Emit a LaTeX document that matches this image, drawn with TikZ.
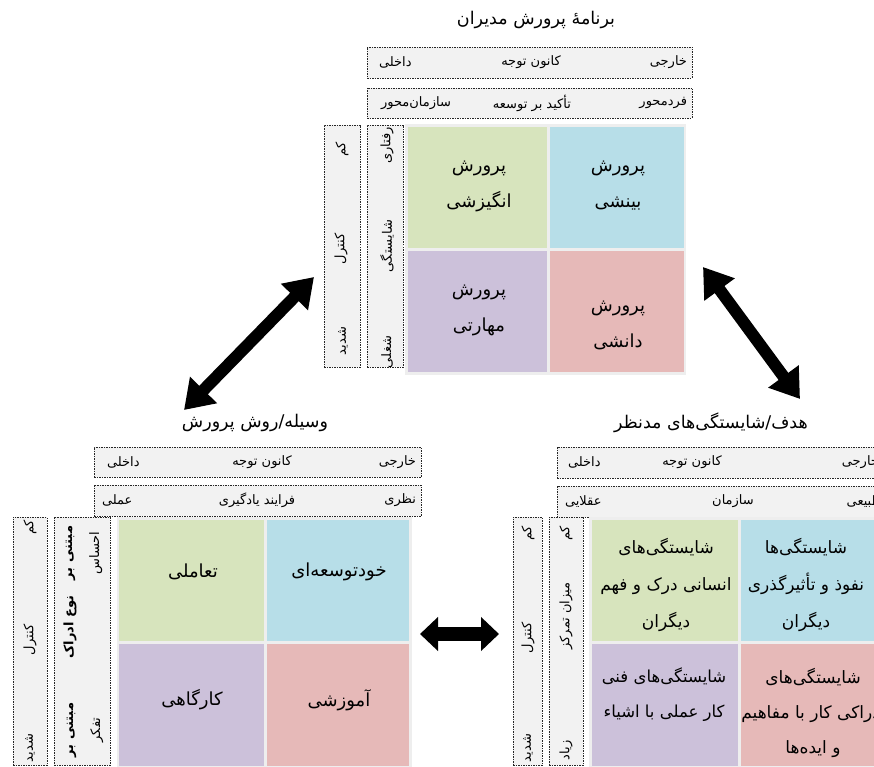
\documentclass[tikz,border=0pt]{standalone}
\usepackage{fontspec}
\newfontfamily\fa[Script=Arabic]{DejaVu Sans}
\TeXXeTstate=1
\usetikzlibrary{arrows.meta}
\definecolor{boxgray}{HTML}{F2F2F2}
\definecolor{matbg}{HTML}{EEEEEE}
\definecolor{cgreen}{HTML}{D7E4BD}
\definecolor{cblue}{HTML}{B7DEE8}
\definecolor{cpurple}{HTML}{CCC1DA}
\definecolor{cred}{HTML}{E6B9B8}
\newcommand{\rl}[1]{\beginR #1\endR}
\tikzset{
  every node/.style={inner sep=0pt, outer sep=0pt},
  dbox/.style={draw=black!85, fill=boxgray, dash pattern=on 1.5pt off 1pt, line width=0.6pt},
  matb/.style={fill=matbg, draw=none},
  cellg/.style={fill=cgreen, draw=none},
  cellb/.style={fill=cblue, draw=none},
  cellp/.style={fill=cpurple, draw=none},
  cellr/.style={fill=cred, draw=none},
  boxlbl/.style={font=\fa\fontsize{13}{15}\selectfont},
  vlbl/.style={boxlbl, rotate=90},
  celltxt/.style={font=\fa\fontsize{18}{36}\selectfont, align=center},
  celltxtb/.style={align=center},
  ttl/.style={font=\fa\fontsize{17.5}{21}\selectfont},
  bigarrow/.style={line width=12pt, {Triangle[length=28pt,width=36pt]}-{Triangle[length=28pt,width=36pt]}},
  midarrow/.style={line width=14pt, {Triangle[length=18pt,width=33pt]}-{Triangle[length=18pt,width=33pt]}},
}
\begin{document}
\begin{tikzpicture}[x=1pt,y=-1pt]
\useasboundingbox (0,0) rectangle (874,767);
\clip (0,0) rectangle (874,767);
\fill[white] (0,0) rectangle (874,767);

% ================= TOP BLOCK =================
\node[ttl] (tt) at (536,20) {\rl{برنامهٔ پرورش مدیران}};
\node[dbox, minimum width=325pt, minimum height=31pt] (t1) at (529.5,62.5) {};
\node[dbox, minimum width=325pt, minimum height=30pt] (t2) at (529.5,103) {};
\node[boxlbl, anchor=east] (t1r) at (687,62.5) {\rl{خارجی}};
\node[boxlbl] (t1c) at (531,62.5) {\rl{کانون توجه}};
\node[boxlbl, anchor=west] (t1l) at (379,62.5) {\rl{داخلی}};
\node[boxlbl, anchor=east] (t2r) at (687,103) {\rl{فردمحور}};
\node[boxlbl] (t2c) at (532,103) {\rl{تأکید بر توسعه}};
\node[boxlbl, anchor=west] (t2l) at (381,103) {\rl{سازمان‌محور}};

\node[dbox, minimum width=36pt, minimum height=242pt] (tv1) at (342,246) {};
\node[dbox, minimum width=36pt, minimum height=242pt] (tv2) at (385,246) {};
\node[vlbl, anchor=east] (tv1a) at (342,142) {\rl{کم}};
\node[vlbl] (tv1b) at (341,249) {\rl{کنترل}};
\node[vlbl, anchor=west] (tv1c) at (343,355) {\rl{شدید}};
\node[vlbl, anchor=east] (tv2a) at (387,127) {\rl{رفتاری}};
\node[vlbl] (tv2b) at (387,246) {\rl{شایستگی}};
\node[vlbl, anchor=west] (tv2c) at (387,368) {\rl{شغلی}};

\node[matb, minimum width=281pt, minimum height=251pt] (tm) at (545.5,249.5) {};
\node[cellg, minimum width=139pt, minimum height=121pt] (tg) at (477.5,187.5) {};
\node[cellb, minimum width=134pt, minimum height=121pt] (tb) at (617,187.5) {};
\node[cellp, minimum width=139pt, minimum height=121pt] (tp) at (477.5,311.5) {};
\node[cellr, minimum width=134pt, minimum height=121pt] (tr) at (617,311.5) {};
\node[celltxt] (tgt) at (479,186) {\rl{پرورش}\\\rl{انگیزشی}};
\node[celltxt] (tbt) at (618,186) {\rl{پرورش}\\\rl{بینشی}};
\node[celltxt] (tpt) at (479,310) {\rl{پرورش}\\\rl{مهارتی}};
\node[celltxt] (trt) at (618,325) {\rl{پرورش}\\\rl{دانشی}};

% ================= BOTTOM LEFT BLOCK =================
\node[ttl] (lt) at (255,423) {\rl{وسیله/روش پرورش}};
\node[dbox, minimum width=327pt, minimum height=30pt] (l1) at (257.5,462) {};
\node[dbox, minimum width=327pt, minimum height=31pt] (l2) at (257.5,500.5) {};
\node[boxlbl, anchor=east] (l1r) at (416,462) {\rl{خارجی}};
\node[boxlbl] (l1c) at (262,462) {\rl{کانون توجه}};
\node[boxlbl, anchor=west] (l1l) at (107,462) {\rl{داخلی}};
\node[boxlbl, anchor=east] (l2r) at (416,500.5) {\rl{نظری}};
\node[boxlbl] (l2c) at (257,500.5) {\rl{فرایند یادگیری}};
\node[boxlbl, anchor=west] (l2l) at (102,500.5) {\rl{عملی}};

\node[dbox, minimum width=34pt, minimum height=248pt] (lv1) at (30,641) {};
\node[dbox, minimum width=56pt, minimum height=248pt] (lv2) at (82,641) {};
\node[vlbl, anchor=east] (lv1a) at (30,520) {\rl{کم}};
\node[vlbl] (lv1b) at (30,640) {\rl{کنترل}};
\node[vlbl, anchor=west] (lv1c) at (30,762) {\rl{شدید}};
\node[vlbl, align=center, font=\fa\fontsize{13}{27}\selectfont] (lv2a) at (84,553) {\bfseries\rl{مبتنی بر}\\\rl{احساس}};
\node[vlbl] (lv2b) at (70,627) {\bfseries\rl{نوع ادراک}};
\node[vlbl, align=center, font=\fa\fontsize{13}{27}\selectfont] (lv2c) at (85,730) {\bfseries\rl{مبتنی بر}\\\rl{تفکر}};

\node[matb, minimum width=295pt, minimum height=252pt] (lm) at (264.5,643) {};
\node[cellg, minimum width=145pt, minimum height=121pt] (lg) at (191.5,580.5) {};
\node[cellb, minimum width=142pt, minimum height=121pt] (lb) at (338,580.5) {};
\node[cellp, minimum width=145pt, minimum height=122pt] (lp) at (191.5,705) {};
\node[cellr, minimum width=142pt, minimum height=122pt] (lr) at (338,705) {};
\node[celltxt] (lgt) at (193,572) {\rl{تعاملی}};
\node[celltxt] (lbt) at (339,572) {\rl{خودتوسعه‌ای}};
\node[celltxt] (lpt) at (192,700) {\rl{کارگاهی}};
\node[celltxt] (lrt) at (339,700) {\rl{آموزشی}};

% ================= BOTTOM RIGHT BLOCK =================
\node[ttl] (rt) at (711,423) {\rl{هدف/شایستگی‌های مدنظر}};
\node[dbox, minimum width=327pt, minimum height=31pt] (r1) at (720.5,462.5) {};
\node[dbox, minimum width=327pt, minimum height=31pt] (r2) at (720.5,501.5) {};
\node[boxlbl, anchor=east] (r1r) at (879,462.5) {\rl{خارجی}};
\node[boxlbl] (r1c) at (692,462.5) {\rl{کانون توجه}};
\node[boxlbl, anchor=west] (r1l) at (568,462.5) {\rl{داخلی}};
\node[boxlbl, anchor=east] (r2r) at (882,501.5) {\rl{طبیعی}};
\node[boxlbl] (r2c) at (733,501.5) {\rl{سازمان}};
\node[boxlbl, anchor=west] (r2l) at (565,501.5) {\rl{عقلایی}};

\node[dbox, minimum width=29pt, minimum height=248pt] (rv1) at (527.5,641) {};
\node[dbox, minimum width=34pt, minimum height=248pt] (rv2) at (566,641) {};
\node[vlbl, anchor=east] (rv1a) at (528,526) {\rl{کم}};
\node[vlbl] (rv1b) at (528,638) {\rl{کنترل}};
\node[vlbl, anchor=west] (rv1c) at (528,762) {\rl{شدید}};
\node[vlbl, anchor=east] (rv2a) at (566,526) {\rl{کم}};
\node[vlbl] (rv2b) at (566,616) {\rl{میزان تمرکز}};
\node[vlbl, anchor=west] (rv2c) at (566,760) {\rl{زیاد}};

\node[matb, minimum width=301pt, minimum height=252pt] (rm) at (739.5,643) {};
\node[cellg, minimum width=146pt, minimum height=121pt] (rg) at (665,580.5) {};
\node[cellb, minimum width=146pt, minimum height=121pt] (rb) at (814,580.5) {};
\node[cellp, minimum width=146pt, minimum height=122pt] (rp) at (665,705) {};
\node[cellr, minimum width=146pt, minimum height=122pt] (rr) at (814,705) {};
\node[celltxtb, font=\fa\fontsize{17}{37}\selectfont] (rgt) at (666,585) {\rl{شایستگی‌های}\\\rl{انسانی درک و فهم}\\\rl{دیگران}};
\node[celltxtb, font=\fa\fontsize{17}{37}\selectfont] (rbt) at (806,585) {\rl{شایستگی‌ها}\\\rl{نفوذ و تأثیرگذری}\\\rl{دیگران}};
\node[celltxtb, font=\fa\fontsize{16.5}{35}\selectfont] (rpt) at (664,695) {\rl{شایستگی‌های فنی}\\\rl{کار عملی با اشیاء}};
\node[celltxtb, font=\fa\fontsize{17}{35}\selectfont] (rrt) at (813,713) {\rl{شایستگی‌های}\\\rl{ادراکی کار با مفاهیم}\\\rl{و ایده‌ها}};

% ================= ARROWS =================
\coordinate (a1s) at (184,410);
\coordinate (a1e) at (314,277);
\coordinate (a2s) at (703,267);
\coordinate (a2e) at (800,399);
\coordinate (a3s) at (420,634);
\coordinate (a3e) at (499,634);
\draw[bigarrow] (a1s) -- (a1e);
\draw[bigarrow] (a2s) -- (a2e);
\draw[midarrow] (a3s) -- (a3e);
\end{tikzpicture}
\end{document}
